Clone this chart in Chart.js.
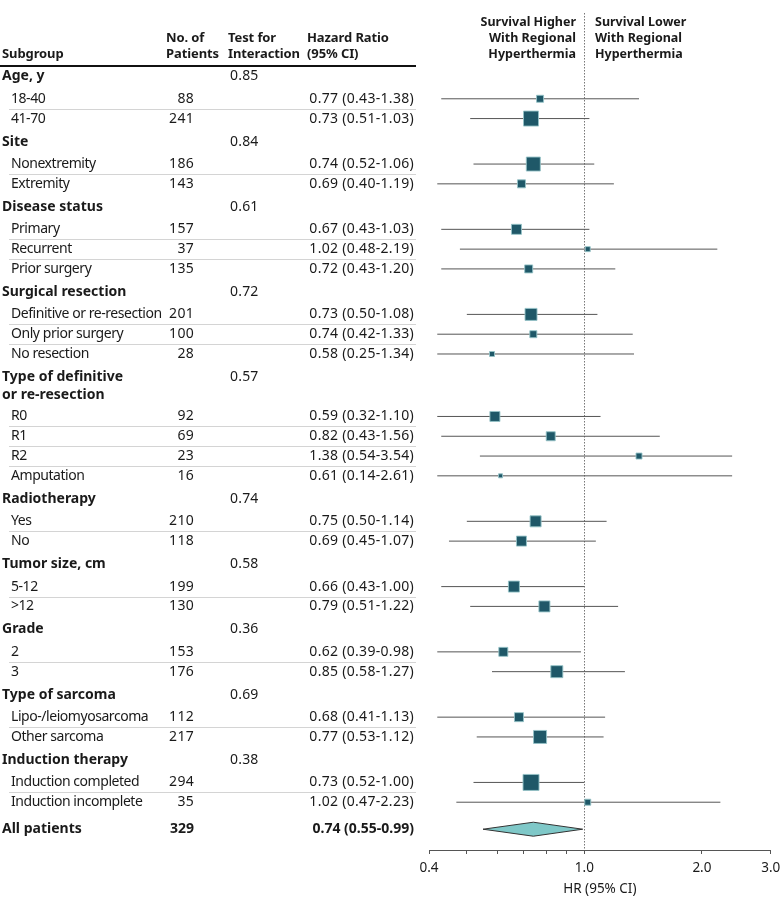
<!DOCTYPE html>
<html>
<head>
<meta charset="utf-8">
<script src="https://cdn.jsdelivr.net/npm/chart.js@4.4.1/dist/chart.umd.min.js"></script>
<style>
  html, body { margin: 0; padding: 0; background: #fff; }
</style>
</head>
<body>
<canvas id="forestChart" width="783" height="907"></canvas>
<script>
// groups of the subgroup analysis
var groupNames = ["Age, y", "Site", "Disease status", "Surgical resection",
    "Type of definitive\nor re-resection", "Radiotherapy", "Tumor size, cm",
    "Grade", "Type of sarcoma", "Induction therapy"];
var interactionP = ["0.85", "0.84", "0.61", "0.72", "0.57", "0.74", "0.58", "0.36", "0.69", "0.38"];
var groupSizes = [2, 2, 3, 3, 4, 2, 2, 2, 2, 2];

// one entry per subgroup row
var subgroups = ["18-40", "41-70", "Nonextremity", "Extremity", "Primary", "Recurrent",
    "Prior surgery", "Definitive or re-resection", "Only prior surgery", "No resection",
    "R0", "R1", "R2", "Amputation", "Yes", "No", "5-12", ">12", "2", "3",
    "Lipo-/leiomyosarcoma", "Other sarcoma", "Induction completed", "Induction incomplete"];
var patients = [88, 241, 186, 143, 157, 37, 135, 201, 100, 28, 92, 69, 23, 16,
    210, 118, 199, 130, 153, 176, 112, 217, 294, 35];
var hazardRatio = [0.77, 0.73, 0.74, 0.69, 0.67, 1.02, 0.72, 0.73, 0.74, 0.58, 0.59, 0.82,
    1.38, 0.61, 0.75, 0.69, 0.66, 0.79, 0.62, 0.85, 0.68, 0.77, 0.73, 1.02];
var ciLower = [0.43, 0.51, 0.52, 0.40, 0.43, 0.48, 0.43, 0.50, 0.42, 0.25, 0.32, 0.43,
    0.54, 0.14, 0.50, 0.45, 0.43, 0.51, 0.39, 0.58, 0.41, 0.53, 0.52, 0.47];
var ciUpper = [1.38, 1.03, 1.06, 1.19, 1.03, 2.19, 1.20, 1.08, 1.33, 1.34, 1.10, 1.56,
    3.54, 2.61, 1.14, 1.07, 1.00, 1.22, 0.98, 1.27, 1.13, 1.12, 1.00, 2.23];
// relative box weight
var boxWeight = [7, 15, 14, 8, 10, 5, 8, 12, 7, 5, 10, 9, 6, 4, 11, 10, 11, 11, 9, 12, 9, 13, 16, 6];

// all patients
var overallLabel = "All patients";
var overallN = 329;
var overallHR = 0.74;
var overallLo = 0.55;
var overallHi = 0.99;

// axis
var tickValues = [0.4, 0.5, 0.6, 0.7, 0.8, 0.9, 1.0, 2.0, 3.0];
var tickLabels = ["0.4", "", "", "", "", "", "1.0", "2.0", "3.0"];

// whiskers are cut at this range in the figure
var clipLo = 0.42, clipHi = 2.39;

var FONT = "Noto Sans";
var INK = "#1a1a1a";

function fmt(v) { return v.toFixed(2); }
function hrText(i) { return fmt(hazardRatio[i]) + " (" + fmt(ciLower[i]) + "-" + fmt(ciUpper[i]) + ")"; }

// row layout (y values are in chart pixel units, the y scale maps 1:1)
var rows = [];
var y = 76;
var k = 0;
groupNames.forEach(function (g, gi) {
    var lines = g.split("\n");
    rows.push({ kind: "head", lines: lines, p: interactionP[gi], y: y });
    y += (lines.length - 1) * 17 + 22.5;
    for (var j = 0; j < groupSizes[gi]; j++) {
        var last = j === groupSizes[gi] - 1;
        rows.push({ kind: "item", i: k, y: y, sep: !last });
        k++;
        y += last ? 23 : 19.8;
    }
});
var overallY = y + 4;

var itemRows = rows.filter(function (r) { return r.kind === "item"; });

var boxData = itemRows.map(function (r) {
    return { x: hazardRatio[r.i], y: r.y };
});
var boxRadius = itemRows.map(function (r) {
    return boxWeight[r.i] / (2 * Math.SQRT1_2);
});

var ciSets = itemRows.map(function (r) {
    return {
        type: "scatter",
        showLine: true,
        data: [
            { x: Math.max(ciLower[r.i], clipLo), y: r.y },
            { x: Math.min(ciUpper[r.i], clipHi), y: r.y }
        ],
        borderColor: "#555",
        borderWidth: 1,
        pointRadius: 0,
        order: 3
    };
});

var diamondSet = {
    type: "scatter",
    showLine: true,
    data: [
        { x: overallLo, y: overallY },
        { x: overallHR, y: overallY - 7 },
        { x: overallHi, y: overallY },
        { x: overallHR, y: overallY + 7 },
        { x: overallLo, y: overallY }
    ],
    borderColor: "#333",
    borderWidth: 1,
    backgroundColor: "#7fc8c8",
    fill: "shape",
    pointRadius: 0,
    tension: 0,
    order: 2
};

function setFont(c, weight, size, spacing) {
    c.font = weight + " " + size + "px '" + FONT + "'";
    if ("letterSpacing" in c) c.letterSpacing = (spacing || 0) + "px";
}

var tablePlugin = {
    id: "forestTable",
    beforeDatasetsDraw: function (chart) {
        var c = chart.ctx;
        var xs = chart.scales.x;
        var px = Math.round(xs.getPixelForValue(1)) + 0.5;
        c.save();
        c.strokeStyle = "#777";
        c.lineWidth = 1;
        c.setLineDash([1.5, 1.5]);
        c.beginPath();
        c.moveTo(px, 13);
        c.lineTo(px, chart.chartArea.bottom);
        c.stroke();
        c.restore();
    },
    afterDraw: function (chart) {
        var c = chart.ctx;
        var ys = chart.scales.y;
        c.save();
        c.fillStyle = INK;
        c.textBaseline = "middle";

        // column headers
        setFont(c, "bold", 13, -0.1);
        c.textAlign = "left";
        c.fillText("Subgroup", 2, 54);
        c.fillText("No. of", 166, 38);
        c.fillText("Patients", 166, 54);
        c.fillText("Test for", 228, 38);
        c.fillText("Interaction", 228, 54);
        c.fillText("Hazard Ratio", 307, 38);
        c.fillText("(95% CI)", 307, 54);

        setFont(c, "bold", 12.5, 0);
        c.textAlign = "right";
        c.fillText("Survival Higher", 576, 22);
        c.fillText("With Regional", 576, 38);
        c.fillText("Hyperthermia", 576, 54);
        c.textAlign = "left";
        c.fillText("Survival Lower", 595, 22);
        c.fillText("With Regional", 595, 38);
        c.fillText("Hyperthermia", 595, 54);

        c.strokeStyle = "#111";
        c.lineWidth = 2;
        c.beginPath();
        c.moveTo(0, 66);
        c.lineTo(416, 66);
        c.stroke();

        rows.forEach(function (r) {
            var py = ys.getPixelForValue(r.y);
            if (r.kind === "head") {
                setFont(c, "bold", 14, 0);
                c.textAlign = "left";
                r.lines.forEach(function (t, li) {
                    c.fillText(t, 2, py + li * 18);
                });
                setFont(c, "normal", 14, 0.2);
                c.fillText(r.p, 230, py);
            } else {
                setFont(c, "normal", 14, -0.45);
                c.textAlign = "left";
                c.fillText(subgroups[r.i], 11, py);
                setFont(c, "normal", 14, 0.3);
                c.textAlign = "right";
                c.fillText(String(patients[r.i]), 194, py);
                c.fillText(hrText(r.i), 414, py);
                if (r.sep) {
                    var sy = Math.round(py + 10) + 0.5;
                    c.strokeStyle = "#d4d4d4";
                    c.lineWidth = 1;
                    c.beginPath();
                    c.moveTo(9, sy);
                    c.lineTo(416, sy);
                    c.stroke();
                }
            }
        });

        var oy = ys.getPixelForValue(overallY);
        setFont(c, "bold", 14, 0);
        c.textAlign = "left";
        c.fillText(overallLabel, 2, oy);
        c.textAlign = "right";
        c.fillText(String(overallN), 194, oy);
        c.fillText(fmt(overallHR) + " (" + fmt(overallLo) + "-" + fmt(overallHi) + ")", 414, oy);
        c.restore();
    }
};

Chart.defaults.font.family = FONT;
Chart.defaults.font.size = 13;
Chart.defaults.color = INK;

var ctx = document.getElementById("forestChart").getContext("2d");
var forestChart = new Chart(ctx, {
    type: "scatter",
    data: {
        datasets: [
            {
                data: boxData,
                pointStyle: "rect",
                pointRadius: boxRadius,
                backgroundColor: "#1f5868",
                borderColor: "rgba(150,195,200,0.9)",
                borderWidth: 1,
                order: 1
            },
            diamondSet
        ].concat(ciSets)
    },
    options: {
        responsive: false,
        animation: false,
        events: [],
        layout: { padding: { left: 429, right: 0, top: 12, bottom: 0 } },
        plugins: {
            legend: { display: false },
            tooltip: { enabled: false }
        },
        scales: {
            x: {
                type: "logarithmic",
                min: 0.4,
                max: 3.0,
                afterBuildTicks: function (scale) {
                    scale.ticks = tickValues.map(function (v) { return { value: v }; });
                },
                afterFit: function (scale) {
                    scale.height = 57;
                    scale.paddingLeft = 0;
                    scale.paddingRight = 9;
                },
                ticks: {
                    autoSkip: false,
                    maxRotation: 0,
                    padding: 6,
                    color: INK,
                    font: { size: 13.5 },
                    callback: function (value) {
                        for (var i = 0; i < tickValues.length; i++) {
                            if (Math.abs(tickValues[i] - value) < 1e-6) return tickLabels[i];
                        }
                        return "";
                    }
                },
                grid: { drawOnChartArea: false, drawTicks: true, tickLength: 4, color: "#555" },
                border: { color: "#555", width: 1 },
                title: {
                    display: true,
                    text: "HR (95% CI)",
                    color: INK,
                    font: { size: 13.5 },
                    padding: { top: 0, bottom: 10 }
                }
            },
            y: {
                type: "linear",
                reverse: true,
                min: 12,
                max: 850,
                display: false
            }
        }
    },
    plugins: [tablePlugin]
});
</script>
</body>
</html>
